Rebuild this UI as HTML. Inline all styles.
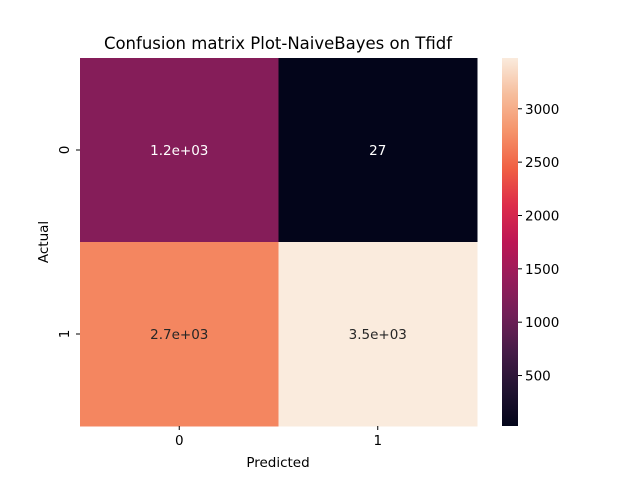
<!DOCTYPE html>
<html><head><meta charset="utf-8"><style>
body{margin:0;background:#fff}
svg text{font-family:"DejaVu Sans","Liberation Sans",sans-serif}
</style></head><body>
<svg width="640" height="480" viewBox="0 0 640 480" xmlns="http://www.w3.org/2000/svg">
<defs><linearGradient id="rocket" x1="0" y1="1" x2="0" y2="0"></linearGradient></defs>
<text x="278" y="49" font-size="16.5" text-anchor="middle" fill="#000">Confusion matrix Plot-NaiveBayes on Tfidf</text>
<g id="cells"></g>
<g id="axes"></g>
<rect id="cbar" x="502" y="58" width="16" height="368" fill="url(#rocket)"/>
<g id="cbticks"></g>
<text x="278" y="467" font-size="13.5" text-anchor="middle">Predicted</text>
<text transform="translate(48,242) rotate(-90)" font-size="13.5" text-anchor="middle">Actual</text>
</svg>
<script>
const rowLabels = ["0","1"];
const colLabels = ["0","1"];
const values = [[1250,27],[2700,3476]];
const cellText = [["1.2e+03","27"],["2.7e+03","3.5e+03"]];
const cbTicks = [500,1000,1500,2000,2500,3000];

const stops=[[0,"#03051a"],[0.1,"#221331"],[0.2,"#451c47"],[0.3,"#701f57"],[0.4,"#961c5b"],[0.5,"#bd1655"],[0.6,"#dd2c4a"],[0.7,"#f06043"],[0.8,"#f5936a"],[0.9,"#f6bd9c"],[1,"#faebdd"]];
const NS="http://www.w3.org/2000/svg";
function mk(t,a,p){const e=document.createElementNS(NS,t);for(const k in a)e.setAttribute(k,a[k]);p.appendChild(e);return e;}
const g=document.getElementById('rocket');
stops.forEach(s=>mk('stop',{offset:s[0],'stop-color':s[1]},g));
const flat=values.flat();const vmin=Math.min(...flat),vmax=Math.max(...flat);
function hex(h){return [1,3,5].map(i=>parseInt(h.substr(i,2),16));}
function cmap(v){let t=(v-vmin)/(vmax-vmin);t=Math.max(0,Math.min(1,t));
 for(let i=1;i<stops.length;i++){if(t<=stops[i][0]){const a=stops[i-1],b=stops[i];const f=(t-a[0])/(b[0]-a[0]);const ca=hex(a[1]),cb=hex(b[1]);
 const c=ca.map((x,j)=>Math.round(x+(cb[j]-x)*f));return {c:`rgb(${c})`,l:(0.299*c[0]+0.587*c[1]+0.114*c[2])};}}
 return {c:stops[stops.length-1][1],l:240};}
const X0=80,X1=477,Y0=58,Y1=426;
const cw=(X1-X0)/colLabels.length,ch=(Y1-Y0)/rowLabels.length;
const xPos=j=>X0+j*cw, yPos=i=>Y0+i*ch;
const cells=document.getElementById('cells');
values.forEach((row,i)=>row.forEach((v,j)=>{
 const col=cmap(v);
 const r=mk('rect',{x:xPos(j),y:yPos(i),width:cw+0.5,height:ch+0.5,fill:col.c},cells);
 
 
 const t=mk('text',{x:xPos(j)+cw/2,y:yPos(i)+ch/2+5,'font-size':13.5,'text-anchor':'middle',fill:col.l>128?'#262626':'#ffffff'},cells);
 t.textContent=cellText[i][j];
 
 
}));
const ax=document.getElementById('axes');
colLabels.forEach((l,j)=>{const x=xPos(j)+cw/2;
 mk('line',{x1:x,x2:x,y1:Y1,y2:Y1+4,stroke:'#000'},ax);
 const t=mk('text',{x:x,y:Y1+19,'font-size':13.5,'text-anchor':'middle'},ax);t.textContent=l;
 
 });
rowLabels.forEach((l,i)=>{const y=yPos(i)+ch/2;
 mk('line',{x1:X0-4,x2:X0,y1:y,y2:y,stroke:'#000'},ax);
 const t=mk('text',{transform:`translate(${X0-11},${y}) rotate(-90)`,'font-size':13.5,'text-anchor':'middle'},ax);t.textContent=l;
 
 });
const cb=document.getElementById('cbticks');
const cy=v=>Y1-(v-vmin)/(vmax-vmin)*(Y1-Y0);
cbTicks.forEach(v=>{const y=cy(v);
 mk('line',{x1:518,x2:522,y1:y,y2:y,stroke:'#000'},cb);
 const t=mk('text',{x:525,y:y+5,'font-size':13.5},cb);t.textContent=v;
 
 });
</script>
</body></html>
